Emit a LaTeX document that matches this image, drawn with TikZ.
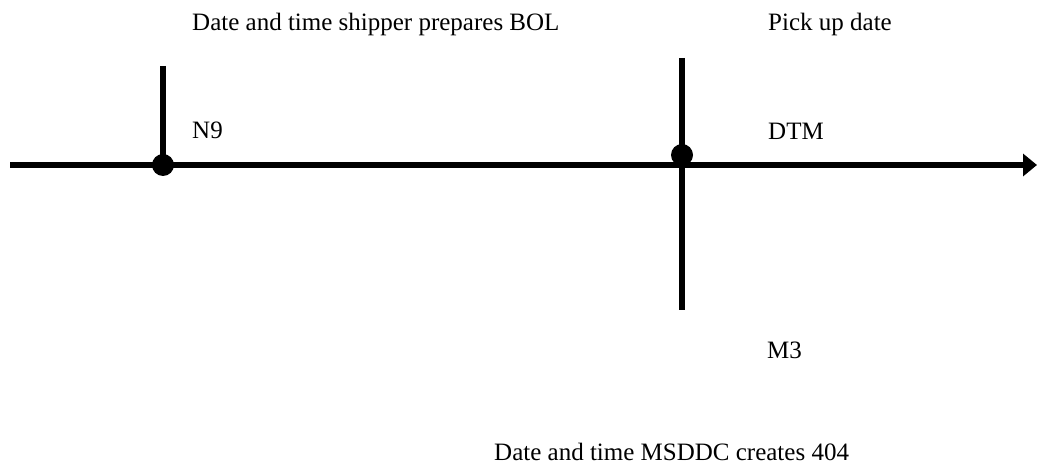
\documentclass[tikz,border=0pt]{standalone}
\usepackage{fontspec}
\setmainfont{Liberation Serif}
\usetikzlibrary{arrows.meta}

\begin{document}
\begin{tikzpicture}[
		x=1pt, y=-1pt,
		every node/.style={font=\fontsize{25}{30}\selectfont, inner sep=0pt, anchor=base west},
		dot/.style={circle, fill, minimum size=22pt, anchor=center},
		bar/.style={line width=6pt}
	]
  \useasboundingbox (0,0) rectangle (1037,473);
  \coordinate (axis_start) at (10,165);
  \coordinate (axis_end) at (1037,165);
  \coordinate (n9_top) at (163,66);
  \coordinate (dtm_top) at (682,58);
  \coordinate (m3_bottom) at (682,310);
  \draw [bar, -{Triangle[length=14pt,width=22pt]}] (axis_start) -- (axis_end);
  \draw [bar] (n9_top) -- (163,165);
  \draw [bar] (dtm_top) -- (m3_bottom);
  \node (n9_dot) [dot] at (163,165) {};
  \node (dtm_dot) [dot] at (682,155) {};
  \node (bol) at (192,31) {Date and time shipper prepares BOL};
  \node (pickup) at (768,31) {Pick up date};
  \node (n9) at (192,139) {N9};
  \node (dtm) at (768,140) {DTM};
  \node (m3) at (767,358) {M3};
  \node (msddc) at (494,460) {Date and time MSDDC creates 404};
\end{tikzpicture}
\end{document}
